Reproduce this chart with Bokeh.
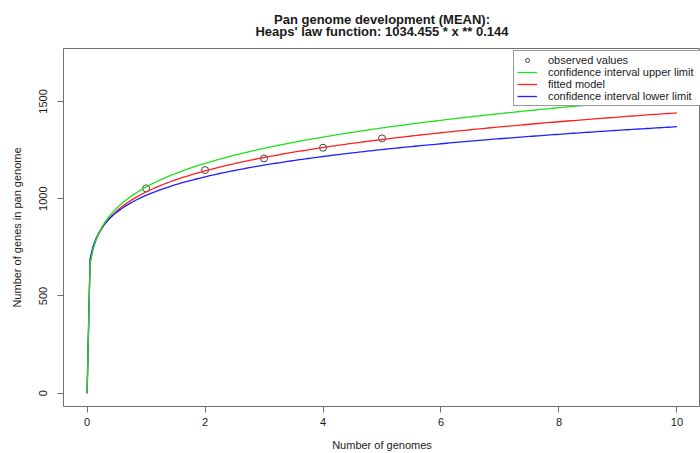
import numpy as np
from bokeh.plotting import figure
from bokeh.layouts import column
from bokeh.models import Legend, LegendItem, Label, FixedTicker, Range1d
from bokeh.embed import file_html
from bokeh.resources import INLINE

# Observed values (mean pan genome size per number of genomes)
obs_x = [1, 2, 3, 4, 5]
obs_y = [1053, 1147, 1207, 1262, 1310]

# Heaps' law models y = k * x ** gamma (fitted model from title, CI limits)
fit_k, fit_gamma = 1034.455, 0.144
upper_k, upper_gamma = 1060.0, 0.1565
lower_k, lower_gamma = 1017.0, 0.1294

x_ticks = [0, 2, 4, 6, 8, 10]
y_ticks = [0, 500, 1000, 1500]
title_lines = ["Pan genome development (MEAN):",
               "Heaps' law function: 1034.455 * x ** 0.144"]

x_lo, x_hi = -0.4, 10.4
y_lo, y_hi = -68, 1772

grid_x = np.round(np.arange(0, 10.0001, 0.05), 4)
fit_y = fit_k * grid_x ** fit_gamma
upper_y = upper_k * grid_x ** upper_gamma
lower_y = lower_k * grid_x ** lower_gamma

FONT = "Liberation Sans"
TXT = "#1a1a1a"

# ---- title strip ----
t = figure(width=700, height=48, output_backend="svg", toolbar_location=None,
           x_range=Range1d(x_lo, x_hi), y_range=Range1d(0, 48),
           x_axis_location=None, y_axis_location=None,
           min_border_left=63, min_border_right=0, min_border_top=0, min_border_bottom=0)
t.grid.visible = False
t.outline_line_color = None
t.background_fill_color = "white"
t.border_fill_color = "white"
for txt, ty in zip(title_lines, [29, 17]):
    t.add_layout(Label(x=(x_lo + x_hi) / 2, y=ty, text=txt, text_align="center",
                       text_baseline="middle", text_font=FONT, text_font_size="13px",
                       text_font_style="bold", text_color=TXT))

# ---- main plot ----
p = figure(width=700, height=405, output_backend="svg", toolbar_location=None,
           x_range=Range1d(x_lo, x_hi), y_range=Range1d(y_lo, y_hi),
           min_border_left=63, min_border_right=0, min_border_top=0, min_border_bottom=47)
p.grid.visible = False
p.background_fill_color = "white"
p.border_fill_color = "white"
p.outline_line_color = "#707070"
p.outline_line_width = 1

r_pts = p.scatter(obs_x, obs_y, size=7, marker="circle", fill_color=None,
                  line_color="#444444", line_width=1)
r_fit = p.line(grid_x, fit_y, line_color="#ff2020", line_width=1.3)
r_low = p.line(grid_x, lower_y, line_color="#2020ff", line_width=1.3)
r_up = p.line(grid_x, upper_y, line_color="#20e020", line_width=1.3)

for ax in (p.xaxis[0], p.yaxis[0]):
    ax.axis_line_color = None
    ax.major_tick_line_color = "#707070"
    ax.major_tick_in = 0
    ax.major_tick_out = 6
    ax.minor_tick_line_color = None
    ax.major_label_text_font = FONT
    ax.major_label_text_font_size = "11px"
    ax.major_label_text_color = TXT
    ax.major_label_text_line_height = 1.0
    ax.axis_label_text_font = FONT
    ax.axis_label_text_font_size = "11px"
    ax.axis_label_text_font_style = "normal"
    ax.axis_label_text_color = TXT
    ax.axis_label_text_line_height = 1.0

p.xaxis.ticker = FixedTicker(ticks=x_ticks)
p.yaxis.ticker = FixedTicker(ticks=y_ticks)
p.xaxis.axis_label = "Number of genomes"
p.yaxis.axis_label = "Number of genes in pan genome"
p.yaxis.major_label_orientation = "vertical"
p.xaxis.major_label_standoff = 5
p.xaxis.axis_label_standoff = 10
p.yaxis.major_label_standoff = 10
p.yaxis.axis_label_standoff = 14

legend = Legend(items=[
    LegendItem(label="observed values", renderers=[r_pts]),
    LegendItem(label="confidence interval upper limit", renderers=[r_up]),
    LegendItem(label="fitted model", renderers=[r_fit]),
    LegendItem(label="confidence interval lower limit", renderers=[r_low]),
], location=(450, 300))
legend.margin = 0
legend.padding = 3
legend.spacing = 0
legend.label_height = 10
legend.glyph_height = 10
legend.glyph_width = 20
legend.label_width = 155
legend.label_standoff = 11
legend.label_text_font = FONT
legend.label_text_font_size = "11px"
legend.label_text_color = TXT
legend.border_line_color = "#333333"
legend.border_line_width = 1
legend.background_fill_alpha = 1
p.add_layout(legend, "center")

layout = column(t, p, spacing=0)
open("out.html", "w").write(file_html(layout, INLINE))
